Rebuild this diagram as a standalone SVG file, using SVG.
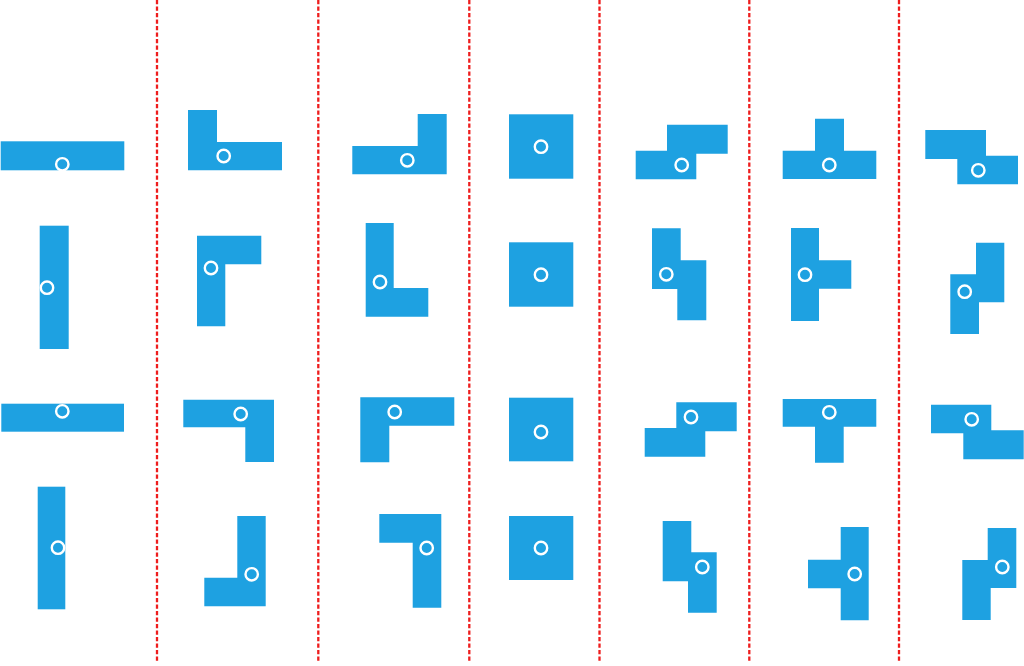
<svg xmlns="http://www.w3.org/2000/svg" width="1024" height="666" viewBox="0 0 1024 666">
<style>
.p{fill:#1ea1e1}
.c{fill:none;stroke:#fff;stroke-width:2.4}
.d{stroke:#ee1d1d;stroke-width:2.3;stroke-dasharray:4.2 2.3;fill:none}
</style>
<rect width="1024" height="666" fill="#fff"/>
<g id="dividers">
<line class="d" x1="157" y1="0" x2="157" y2="662"/>
<line class="d" x1="318.3" y1="0" x2="318.3" y2="662"/>
<line class="d" x1="469.3" y1="0" x2="469.3" y2="662"/>
<line class="d" x1="599.5" y1="0" x2="599.5" y2="662"/>
<line class="d" x1="749.3" y1="0" x2="749.3" y2="662"/>
<line class="d" x1="899" y1="0" x2="899" y2="662"/>
</g>
<g id="I1"><rect class="p" x="0.7" y="141.3" width="123.6" height="29"/><circle class="c" cx="62.3" cy="164.3" r="6.2"/></g>
<g id="I2"><rect class="p" x="39.7" y="225.7" width="29" height="123.3"/><circle class="c" cx="47" cy="287.7" r="6.2"/></g>
<g id="I3"><rect class="p" x="1.3" y="403.7" width="122.7" height="28"/><circle class="c" cx="62.3" cy="411.3" r="6.2"/></g>
<g id="I4"><rect class="p" x="37.7" y="486.7" width="27.6" height="122.6"/><circle class="c" cx="58" cy="547.7" r="6.2"/></g>
<g id="L1"><path class="p" d="M188,110H217V142H282V170.3H188Z"/><circle class="c" cx="223.7" cy="156" r="6.2"/></g>
<g id="L2"><path class="p" d="M197,235.7H261.3V264.3H225.3V326.3H197Z"/><circle class="c" cx="211" cy="268" r="6.2"/></g>
<g id="L3"><path class="p" d="M183.3,399.7H274V462H245.3V427.3H183.3Z"/><circle class="c" cx="240.7" cy="414" r="6.2"/></g>
<g id="L4"><path class="p" d="M237.3,516H265.7V606.3H204.3V577.7H237.3Z"/><circle class="c" cx="251.7" cy="574.3" r="6.2"/></g>
<g id="J1"><path class="p" d="M417.7,114H446.7V174.3H352.3V146H417.7Z"/><circle class="c" cx="407.3" cy="160.3" r="6.2"/></g>
<g id="J2"><path class="p" d="M365.7,223H393.7V288H428.3V316.7H365.7Z"/><circle class="c" cx="380" cy="282" r="6.2"/></g>
<g id="J3"><path class="p" d="M360.3,397.3H454.3V425.7H389.3V462.3H360.3Z"/><circle class="c" cx="394.7" cy="412" r="6.2"/></g>
<g id="J4"><path class="p" d="M379.3,514H441.3V607.7H412.7V542.7H379.3Z"/><circle class="c" cx="426.7" cy="548" r="6.2"/></g>
<g id="O1"><rect class="p" x="509" y="114.3" width="64.3" height="64.4"/><circle class="c" cx="541" cy="146.7" r="6.2"/></g>
<g id="O2"><rect class="p" x="509" y="242.3" width="64.3" height="64.4"/><circle class="c" cx="541" cy="274.7" r="6.2"/></g>
<g id="O3"><rect class="p" x="509" y="397.7" width="64.3" height="63.6"/><circle class="c" cx="541" cy="432" r="6.2"/></g>
<g id="O4"><rect class="p" x="509" y="516" width="64.3" height="64"/><circle class="c" cx="541" cy="548" r="6.2"/></g>
<g id="S1"><path class="p" d="M667,124.7H727.7V153.7H696.3V179.3H635.7V150.7H667Z"/><circle class="c" cx="681.7" cy="165" r="6.2"/></g>
<g id="S2"><path class="p" d="M652,228.3H680.7V260.3H706.3V320.3H677.3V289H652Z"/><circle class="c" cx="666.3" cy="274.3" r="6.2"/></g>
<g id="S3"><path class="p" d="M676.3,402.3H736.7V431.3H705.3V456.7H644.7V428H676.3Z"/><circle class="c" cx="691" cy="417" r="6.2"/></g>
<g id="S4"><path class="p" d="M662.7,521H691.3V552.3H716.7V612.7H688V581.3H662.7Z"/><circle class="c" cx="702.3" cy="567" r="6.2"/></g>
<g id="T1"><path class="p" d="M815,118.7H844V150.7H876.3V179H782.7V150.7H815Z"/><circle class="c" cx="829.3" cy="165" r="6.2"/></g>
<g id="T2"><path class="p" d="M791,228H819V260.3H851.3V288.7H819V321H791Z"/><circle class="c" cx="805" cy="274.7" r="6.2"/></g>
<g id="T3"><path class="p" d="M782.7,399H876.3V426.7H843.7V462.7H815V426.7H782.7Z"/><circle class="c" cx="829.3" cy="412.3" r="6.2"/></g>
<g id="T4"><path class="p" d="M840.7,527H868.7V620.3H840.7V588.3H808V559.7H840.7Z"/><circle class="c" cx="854.7" cy="574" r="6.2"/></g>
<g id="Z1"><path class="p" d="M925.3,130H986V155.7H1018V184.3H957.3V159H925.3Z"/><circle class="c" cx="978.3" cy="170.3" r="6.2"/></g>
<g id="Z2"><path class="p" d="M976,242.7H1004.3V302.3H979V334H950.3V274.3H976Z"/><circle class="c" cx="964.7" cy="291.7" r="6.2"/></g>
<g id="Z3"><path class="p" d="M931,404.7H991.3V430.3H1023.7V459.3H963.3V433.3H931Z"/><circle class="c" cx="971.7" cy="419.3" r="6.2"/></g>
<g id="Z4"><path class="p" d="M987.7,528H1016.3V588H990.7V620H962.3V560H987.7Z"/><circle class="c" cx="1002.3" cy="567" r="6.2"/></g>
</svg>
